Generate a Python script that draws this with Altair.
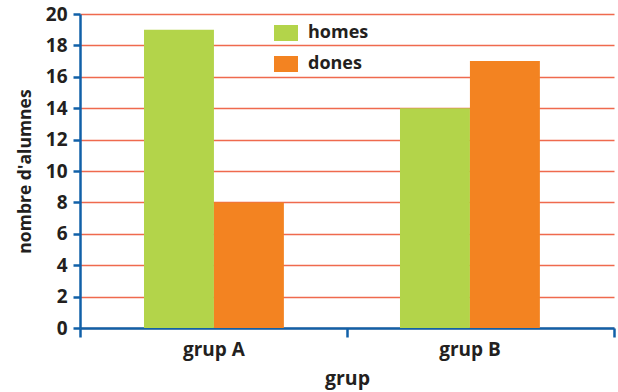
import altair as alt
import pandas as pd

# Student counts per group, split by sex
grups = ["grup A", "grup A", "grup B", "grup B"]
sexes = ["homes", "dones", "homes", "dones"]
alumnes = [19, 8, 14, 17]

series_order = ["homes", "dones"]
series_colors = ["#b3d44a", "#f38321"]

# Boundaries of the category axis, where its tick marks sit
axis_marks = [0, 1, 2]

df = pd.DataFrame({"grup": grups, "sexe": sexes, "alumnes": alumnes})
marks_df = pd.DataFrame({"pos": axis_marks})

axis_blue = "#1160a8"
grid_red = "#ef6a4e"
text_dark = "#231f20"
font = "Open Sans"

y_enc = alt.Y(
    "alumnes:Q",
    title="nombre d'alumnes",
    scale=alt.Scale(domain=[0, 20], nice=False),
    axis=alt.Axis(
        values=list(range(0, 21, 2)),
        domainColor=axis_blue,
        domainWidth=2.5,
        tickColor=axis_blue,
        tickWidth=2.5,
        tickSize=7,
        gridColor=grid_red,
        gridWidth=1.6,
        labelFontSize=19,
        labelFontWeight="bold",
        labelColor=text_dark,
        labelPadding=6,
        titleFontSize=17.5,
        titleFontWeight="bold",
        titleColor=text_dark,
        titlePadding=11,
    ),
)

bars = alt.Chart(df).mark_bar().encode(
    x=alt.X(
        "grup:N",
        title="grup",
        scale=alt.Scale(paddingInner=0, paddingOuter=0.043, align=0.27),
        axis=alt.Axis(
            labelAngle=0,
            domain=False,
            ticks=False,
            grid=False,
            labelFontSize=19,
            labelFontWeight="bold",
            labelColor=text_dark,
            labelPadding=12,
            titleFontSize=19.5,
            titleFontWeight="bold",
            titleColor=text_dark,
            titlePadding=10,
        ),
    ),
    xOffset=alt.XOffset(
        "sexe:N",
        sort=series_order,
        scale=alt.Scale(paddingInner=0, paddingOuter=0.83),
    ),
    y=y_enc,
    color=alt.Color(
        "sexe:N",
        sort=series_order,
        scale=alt.Scale(domain=series_order, range=series_colors),
        legend=alt.Legend(
            title=None,
            orient="none",
            legendX=194,
            legendY=7,
            symbolType="M-1,-0.667H1V0.667H-1Z",
            symbolSize=576,
            symbolStrokeWidth=0,
            symbolOpacity=1,
            labelFontSize=18,
            labelFontWeight="bold",
            labelColor=text_dark,
            labelOffset=10,
            rowPadding=10,
        ),
    ),
)

# Baseline with tick marks at the category boundaries
baseline = alt.Chart(marks_df).mark_point(opacity=0).encode(
    x=alt.X(
        "pos:Q",
        scale=alt.Scale(domain=[0, 2], nice=False, zero=False),
        axis=alt.Axis(
            values=axis_marks,
            labels=False,
            title=None,
            grid=False,
            domainColor=axis_blue,
            domainWidth=2.5,
            tickColor=axis_blue,
            tickWidth=2.5,
            tickSize=9,
            orient="bottom",
        ),
    ),
    y=alt.value(314),
)

chart = (
    alt.layer(bars, baseline)
    .resolve_scale(x="independent")
    .properties(width=534, height=314)
    .configure(
        font=font,
        autosize=alt.AutoSizeParams(type="none"),
        padding={"left": 80, "top": 14, "right": 4, "bottom": 64},
    )
    .configure_view(stroke=None)
)

chart.save("out.html", embed_options={"renderer": "svg", "actions": False})
